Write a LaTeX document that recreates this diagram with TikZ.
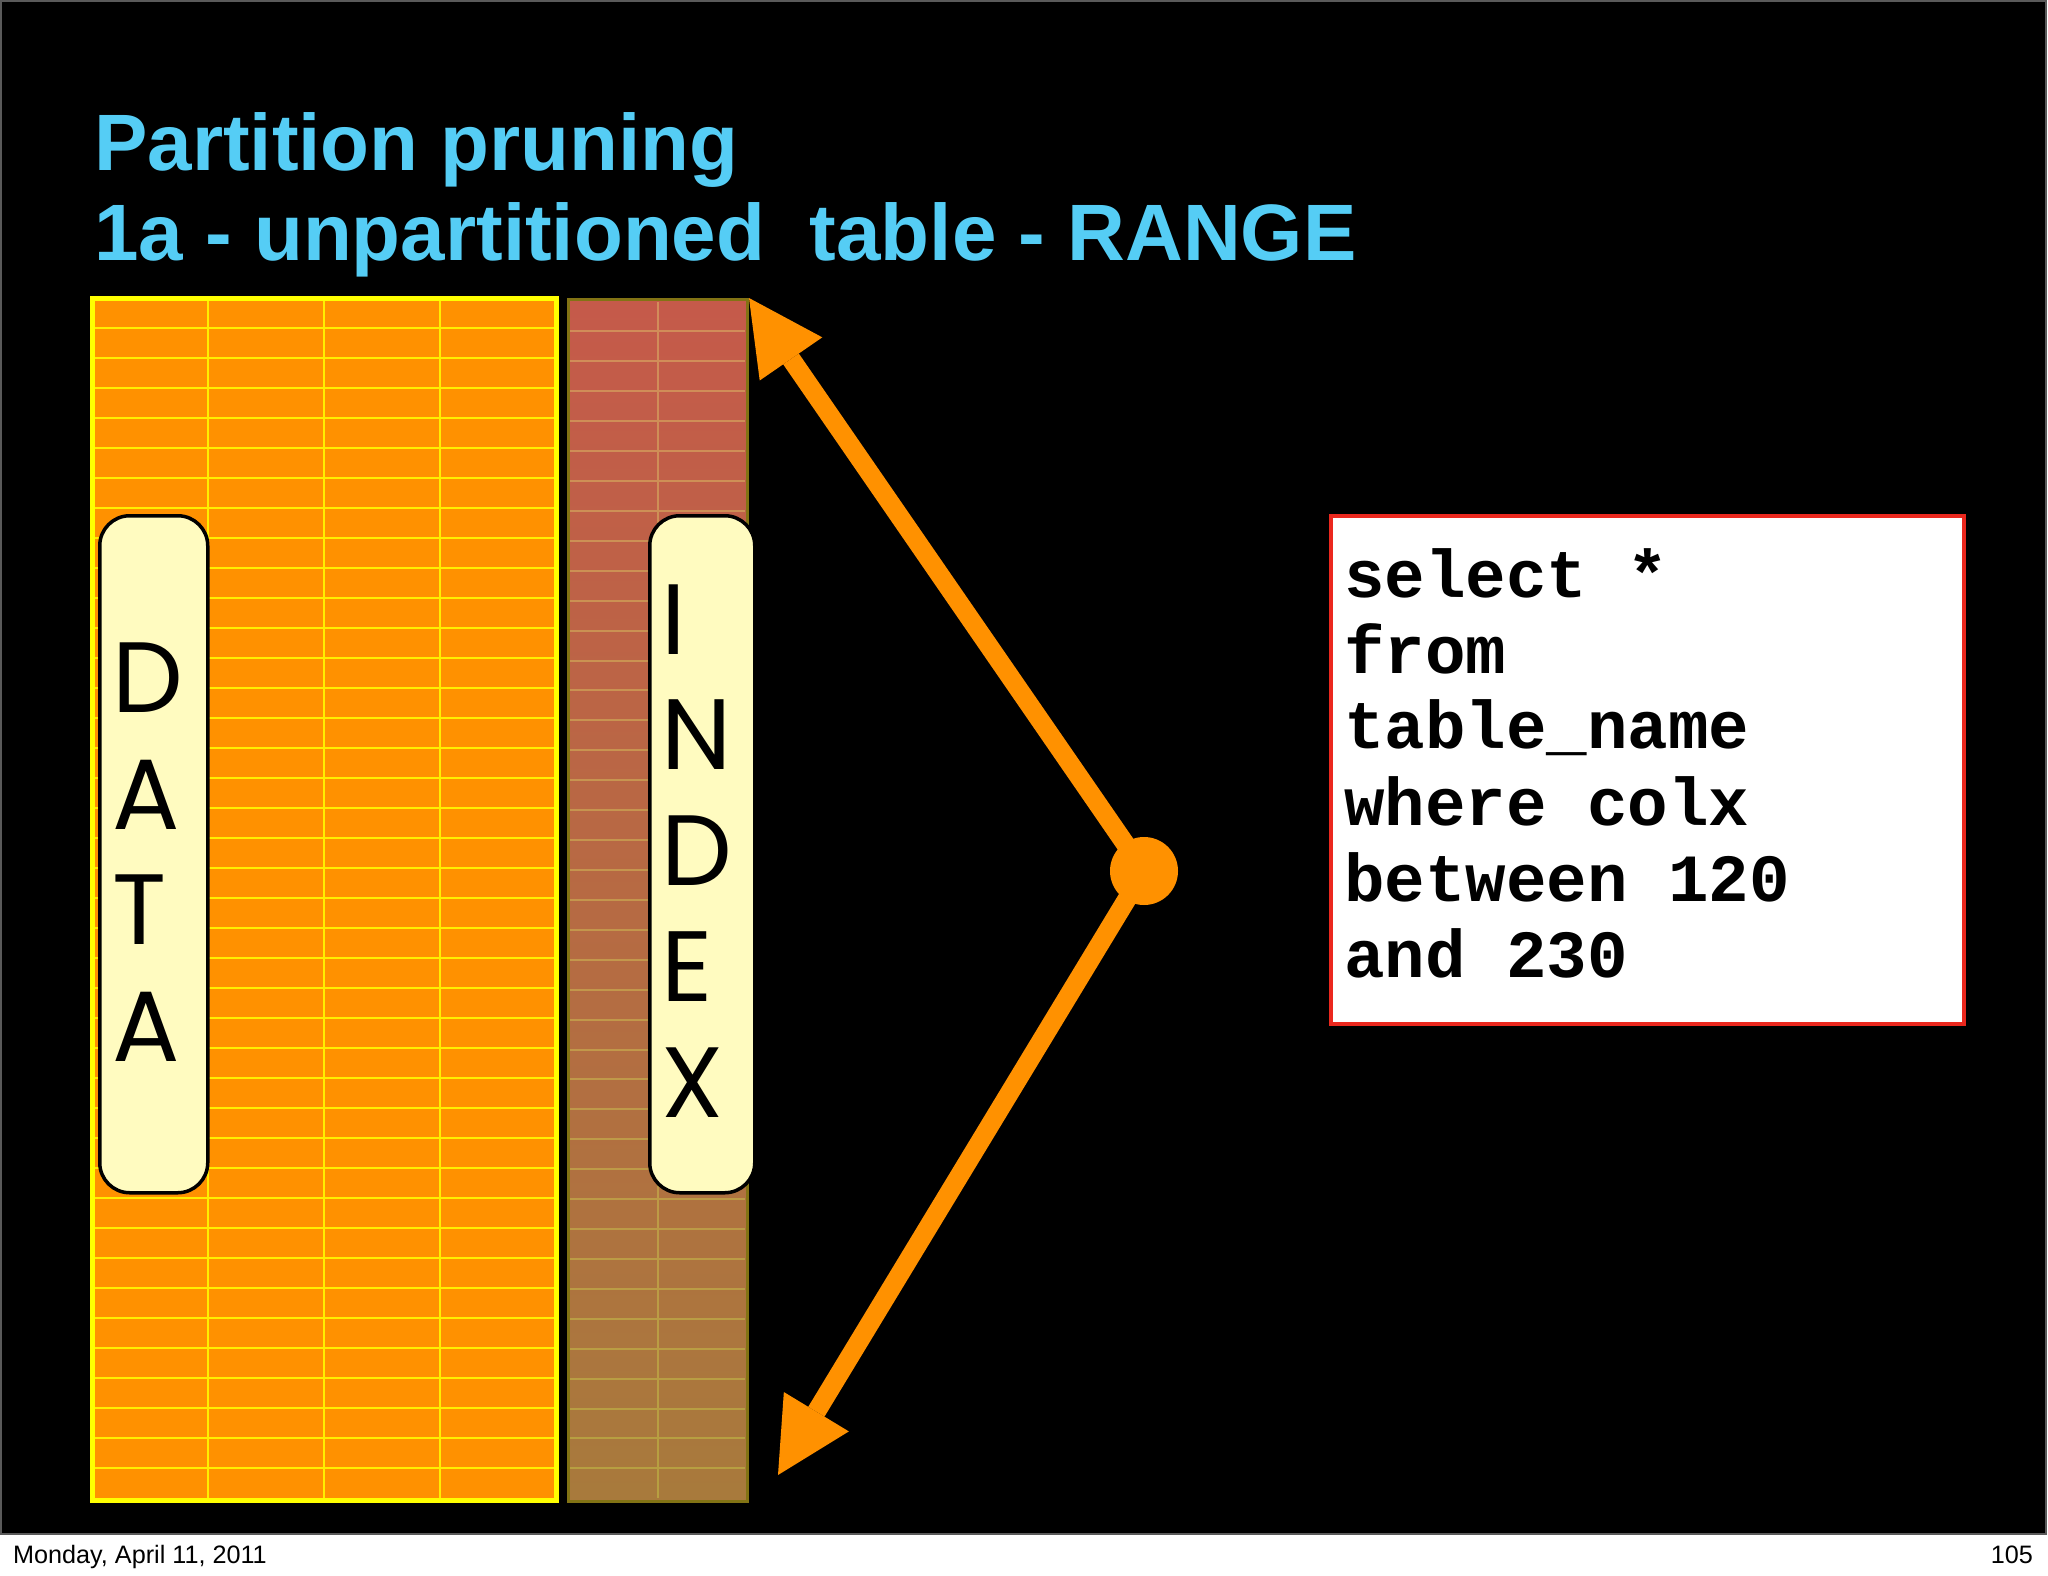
\documentclass[tikz,border=0pt]{standalone}
\usepackage{fontspec}
\setmainfont{Liberation Sans}
\newfontfamily\codefont{Liberation Mono}
\newfontfamily\lblfont{Poppins}
\usetikzlibrary{arrows.meta,calc}
\definecolor{titleblue}{RGB}{85,205,245}
\definecolor{dataorange}{RGB}{255,145,0}
\definecolor{gridyellow}{RGB}{255,238,0}
\definecolor{borderyellow}{RGB}{255,255,0}
\definecolor{idxtop}{RGB}{197,90,74}
\definecolor{idxbot}{RGB}{168,122,60}
\definecolor{idxlinetop}{RGB}{210,140,90}
\definecolor{idxlinebot}{RGB}{182,160,64}
\definecolor{idxborder}{RGB}{130,115,20}
\definecolor{lblfill}{RGB}{255,251,192}
\definecolor{arroworange}{RGB}{255,145,0}
\definecolor{codered}{RGB}{235,40,30}
\definecolor{framegray}{RGB}{90,90,90}
\tikzset{
  titletext/.style={text=titleblue, inner sep=0pt, font=\fontsize{80}{96}\selectfont\bfseries},
  lbltext/.style={text=black, inner sep=0pt, font=\lblfont\fontsize{100}{116}\selectfont},
  codetext/.style={text=black, inner sep=0pt, font=\codefont\bfseries\fontsize{67.5}{76}\selectfont},
  foottext/.style={text=black, inner sep=0pt, font=\fontsize{25.2}{30}\selectfont},
  lblbox/.style={draw=black, line width=3.5pt, fill=lblfill, rounded corners=30pt, inner sep=0pt, anchor=north west},
  datagrid/.style={draw=gridyellow, line width=2.2pt},
  arrowline/.style={draw=arroworange, line width=19pt, -{Triangle[length=74pt,width=76pt,line width=0pt]}}
}
\begin{document}
\begin{tikzpicture}[x=1pt,y=-1pt]
\useasboundingbox (0,0) rectangle (2048,1576);
\fill[white] (0,0) rectangle (2048,1576);
\fill[black] (0,0) rectangle (2047,1534);
\draw[framegray, line width=2pt] (1,1) rectangle (2046,1534);

% title
\node[titletext, anchor=base west] (t1) at (94,170) {Partition pruning};
\node[titletext, anchor=base west] (t2) at (94,260) {1a - unpartitioned\ \ table - RANGE};

% data table
\node[fill=dataorange, minimum width=464pt, minimum height=1202pt, inner sep=0pt, anchor=north west] (data) at (92,298) {};
\foreach \k in {1,...,39} \draw[datagrid] (93,{298+30*\k}) -- (555,{298+30*\k});
\foreach \x in {208,324,440} \draw[datagrid] (\x,298) -- (\x,1500);
\draw[draw=borderyellow, line width=5pt] (data.north west) rectangle (data.south east);

% index table
\node[minimum width=179pt, minimum height=1202pt, inner sep=0pt, anchor=north west] (index) at (568,299) {};
\shade[top color=idxtop, bottom color=idxbot] (index.north west) rectangle (index.south east);
\foreach \k in {0,...,39} {
  \pgfmathtruncatemacro\p{100*\k/40}
  \draw[draw=idxlinebot!\p!idxlinetop, line width=2pt] (658,{301.5+29.92*\k}) -- (658,{301.5+29.92*(\k+1)});
  \ifnum\k>0
    \draw[draw=idxlinebot!\p!idxlinetop, line width=2pt] (570,{301.5+29.92*\k}) -- (745,{301.5+29.92*\k});
  \fi
}
\draw[draw=idxborder, line width=3pt] (index.north west) rectangle (index.south east);

% label boxes
\node[lblbox, minimum width=108pt, minimum height=677pt] (datalbl) at (98,514) {};
\node[lblbox, minimum width=105pt, minimum height=677pt] (indexlbl) at (648,514) {};
\foreach \l/\y [count=\i] in {D/712, A/829, T/944, A/1061}
  \node[lbltext, anchor=base west] (dl\i) at (112,\y) {\l};
\foreach \l/\y [count=\i] in {I/654, N/769, D/885, E/1001, X/1117}
  \node[lbltext, anchor=base west] (il\i) at (661,\y) {\l};

% arrows
\node[circle, fill=arroworange, minimum size=68pt, inner sep=0pt] (dot) at (1144,871) {};
\coordinate (uptip) at (749,298);
\coordinate (downtip) at (778,1475);
\draw[arrowline] (dot.center) -- (uptip);
\draw[arrowline] (dot.center) -- (downtip);

% code box
\node[draw=codered, line width=4pt, fill=white, minimum width=633pt, minimum height=508pt, inner sep=0pt, anchor=north west] (code) at (1329,514) {};
\foreach \t/\y [count=\i] in {select */597, from/673, table\_name/748, where colx/825, between 120/901, and 230/977}
  \node[codetext, anchor=base west] (c\i) at (1344,\y) {\t};

% footer
\node[foottext, anchor=base west] (date) at (13,1563) {Monday, April 11, 2011};
\node[foottext, anchor=base east] (page) at (2033,1563) {105};
\end{tikzpicture}
\end{document}
